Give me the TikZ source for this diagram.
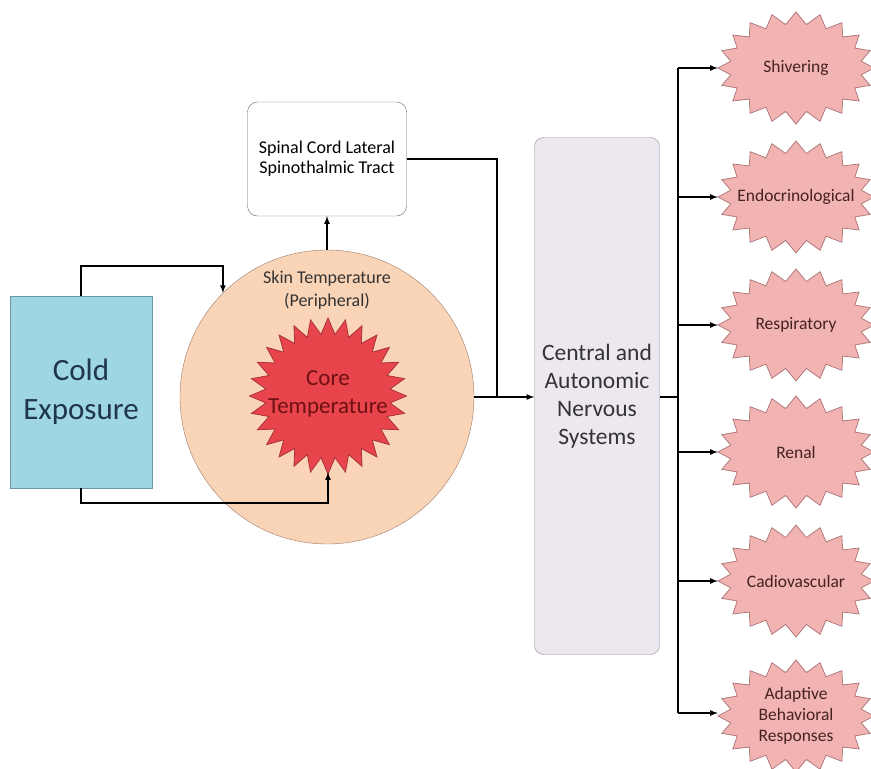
\documentclass[tikz,border=0pt]{standalone}
\usepackage{fontspec}
\setmainfont{Carlito}
\usetikzlibrary{arrows}

\definecolor{coldfill}{HTML}{9ED6E3}
\definecolor{colddraw}{HTML}{6A98A6}
\definecolor{coldtext}{HTML}{1F3550}
\definecolor{skinfill}{HTML}{FAD4B6}
\definecolor{skindraw}{HTML}{9C7A68}
\definecolor{corefill}{HTML}{E8444B}
\definecolor{coredraw}{HTML}{A8343A}
\definecolor{coretext}{HTML}{6E1014}
\definecolor{burstfill}{HTML}{F2B3B3}
\definecolor{burstdraw}{HTML}{B27B7B}
\definecolor{bursttext}{HTML}{462222}
\definecolor{cnsfill}{HTML}{EDE8F0}
\definecolor{cnsdraw}{HTML}{8C8A92}

% star outline: centre, x radius, y radius, points, depth, style
\newcommand\drawburst[6]{%
  \pgfmathtruncatemacro\burstlast{2*#4-1}%
  \filldraw[#6] ([shift={(#1)}]0:{#2} and {#3})
    \foreach \i [evaluate=\i as \ang using {\i*180/#4},
                 evaluate=\i as \rx using {#2-#5*mod(\i,2)},
                 evaluate=\i as \ry using {#3-#5*mod(\i,2)}] in {1,...,\burstlast}
      { -- ([shift={(#1)}]\ang:{\rx} and {\ry}) } -- cycle;}

\begin{document}
\begin{tikzpicture}[x=1pt,y=-1pt,
  conn/.style={line width=1.6pt,black},
  sideline/.style={fill=burstfill,draw=burstdraw,line width=0.8pt,line join=miter},
  sidelab/.style={minimum width=156pt,minimum height=112pt,inner sep=0pt,
    align=center,text=bursttext,font=\fontsize{17.5}{21}\selectfont}]
\useasboundingbox (0,0) rectangle (871,769);
% left side
\node[draw=colddraw,fill=coldfill,minimum width=142pt,minimum height=192pt,
  align=center,text=coldtext,font=\fontsize{31}{39}\selectfont]
  (cold) at (81,392) {Cold\\Exposure};
\node[circle,draw=skindraw,fill=skinfill,minimum size=294pt,inner sep=0pt]
  (skin) at (327,397) {};
\node[align=center,text=black!80,font=\fontsize{18}{23}\selectfont]
  (skinlab) at (327,290) {Skin Temperature\\(Peripheral)};
\drawburst{328,396}{78.5}{78}{28}{16}{fill=corefill,draw=coredraw,line width=0.8pt}
\node[minimum width=157pt,minimum height=156pt,inner sep=0pt,align=center,
  text=coretext,font=\fontsize{23}{28}\selectfont]
  (core) at (328,394) {Core\\Temperature};
\node[draw=black!60,fill=white,rounded corners=10pt,minimum width=159pt,
  minimum height=114pt,align=center,font=\fontsize{18}{20}\selectfont]
  (spinal) at (327,159) {Spinal Cord Lateral\\Spinothalmic Tract};
% centre
\node[draw=cnsdraw,fill=cnsfill,rounded corners=9pt,minimum width=125pt,
  minimum height=517pt,align=center,text=black!80,font=\fontsize{23.5}{28}\selectfont]
  (cns) at (597,396) {Central and\\Autonomic\\Nervous\\Systems};
% responses
\foreach \nm/\yy/\txt in {shiv/68/Shivering, endo/197/Endocrinological,
    resp/325/Respiratory, renal/452/Renal, cardio/581/Cadiovascular,
    adapt/716/{Adaptive\\Behavioral\\Responses}}{
  \drawburst{796,\yy}{78}{56}{20}{12}{sideline}
  \node[sidelab] (\nm) at (796,\yy) {\txt};
}
% connectors
\coordinate (join) at (497,397);
\coordinate (bus) at (678,397);
\coordinate (lastbr) at (678,713);
\draw[conn,-latex] (cold.north) -- ++(0,-30) -| (skin.north west);
\draw[conn,-latex] (cold.south) -- ++(0,15) -| (core.south);
\draw[conn,-latex] (skin.north) -- (spinal.south);
\draw[conn] (spinal.east) -| (join);
\draw[conn,-latex] (skin.east) -- (cns.west |- skin.east);
\draw[conn] (cns.east |- bus) -- (bus);
\draw[conn] (bus |- shiv) -- (lastbr);
\foreach \r in {shiv,endo,resp,renal,cardio}
  \draw[conn,-latex] (bus |- \r) -- (\r.west);
\draw[conn,-latex] (lastbr) -- (adapt.west |- lastbr);
\end{tikzpicture}
\end{document}
